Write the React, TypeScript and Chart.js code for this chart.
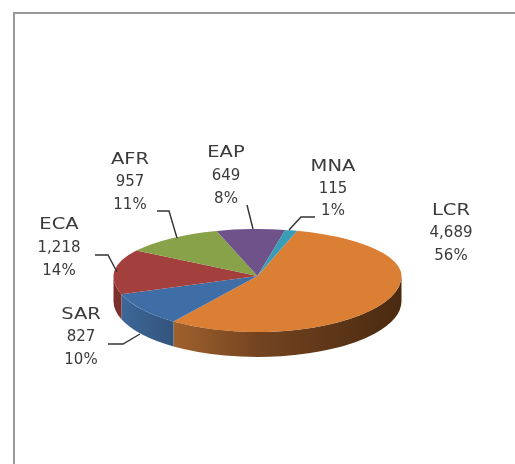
import React, { useEffect, useRef } from "react";
import { Chart, registerables } from "chart.js";

Chart.register(...registerables);

const categories = ["LCR", "SAR", "ECA", "AFR", "EAP", "MNA"];
const values = [4689, 827, 1218, 957, 649, 115];
const percents = ["56%", "10%", "14%", "11%", "8%", "1%"];
const topColors = ["#db7f35", "#3f6ea6", "#a33f3c", "#87a249", "#6e5289", "#399db6"];

const labelAnchors = [
  { x: 451, y: 211, step: 22.5 },
  { x: 81, y: 315, step: 22.5 },
  { x: 59, y: 225, step: 23 },
  { x: 130, y: 160, step: 22.5 },
  { x: 226, y: 153, step: 23 },
  { x: 333, y: 167, step: 22 },
];
const leaders = [
  [],
  [[108, 344], [123, 344], [140, 334]],
  [[95, 255], [108, 255], [117, 272]],
  [[157, 211], [169, 211], [177, 238]],
  [[247, 205], [253, 229]],
  [[315, 217], [301, 217], [289, 230]],
];

const APEX_Y = 276;
const K_TOP = 47 / 144;
const K_BOTTOM = 56 / 144;
const DEPTH = 25;
const NAME_STRETCH = 1.3;

const pie3d = {
  id: "pie3d",
  beforeDatasetsDraw(chart: any) {
    const ctx = chart.ctx;
    const meta = chart.getDatasetMeta(0);
    const first = meta.data[0];
    const cx = first.x;
    const cy = first.y;
    const r = first.outerRadius;
    const ry = r * K_BOTTOM;

    const wallFill = (i: number) => {
      const g = ctx.createLinearGradient(cx - r, 0, cx + r, 0);
      if (i === 0) {
        g.addColorStop(0.15, "#a8672f");
        g.addColorStop(0.5, "#744420");
        g.addColorStop(1, "#4a2a10");
      } else if (i === 1) {
        g.addColorStop(0, "#3f6a9c");
        g.addColorStop(0.2, "#33557e");
      } else {
        g.addColorStop(0, "#7d2f2c");
        g.addColorStop(1, "#7d2f2c");
      }
      return g;
    };

    const twoPi = Math.PI * 2;
    meta.data.forEach((arc: any, i: number) => {
      for (const shift of [-twoPi, 0, twoPi]) {
        const a0 = Math.max(arc.startAngle + shift, 0);
        const a1 = Math.min(arc.endAngle + shift, Math.PI);
        if (a1 <= a0) continue;
        ctx.save();
        ctx.beginPath();
        ctx.ellipse(cx, APEX_Y, r, ry, 0, a0, a1);
        ctx.ellipse(cx, APEX_Y + DEPTH, r, ry, 0, a1, a0, true);
        ctx.closePath();
        ctx.fillStyle = wallFill(i);
        ctx.fill();
        ctx.restore();
      }
    });

    const half = (yFrom: number, h: number, k: number) => {
      ctx.save();
      ctx.beginPath();
      ctx.rect(0, yFrom, chart.width, h);
      ctx.clip();
      ctx.translate(0, APEX_Y);
      ctx.scale(1, k);
      ctx.translate(0, -cy);
      meta.controller.draw();
      ctx.restore();
    };
    half(0, APEX_Y, K_TOP);
    half(APEX_Y, chart.height - APEX_Y, K_BOTTOM);
    return false;
  },
  afterDraw(chart: any) {
    const ctx = chart.ctx;
    ctx.save();
    ctx.strokeStyle = "#333";
    ctx.lineWidth = 1.4;
    leaders.forEach((pts) => {
      if (!pts.length) return;
      ctx.beginPath();
      pts.forEach((p, j) => (j ? ctx.lineTo(p[0], p[1]) : ctx.moveTo(p[0], p[1])));
      ctx.stroke();
    });
    ctx.fillStyle = "#3a3a3a";
    ctx.font = '15px "DejaVu Sans"';
    ctx.textAlign = "center";
    ctx.textBaseline = "middle";
    categories.forEach((c, i) => {
      const a = labelAnchors[i];
      [c, values[i].toLocaleString("en-US"), percents[i]].forEach((t, j) => {
        ctx.save();
        ctx.translate(a.x, a.y + j * a.step);
        if (j === 0) ctx.scale(NAME_STRETCH, 1);
        ctx.fillText(t, 0, 0);
        ctx.restore();
      });
    });
    ctx.restore();
  },
};

export default function App() {
  const ref = useRef<HTMLCanvasElement>(null);
  useEffect(() => {
    const chart = new Chart(ref.current!, {
      type: "pie",
      data: {
        labels: categories,
        datasets: [{ data: values, backgroundColor: topColors, borderWidth: 0 }],
      },
      options: {
        animation: false,
        responsive: false,
        rotation: 16,
        radius: 144,
        plugins: { legend: { display: false }, tooltip: { enabled: false }, title: { display: false } },
      },
      plugins: [pie3d],
    } as any);
    return () => chart.destroy();
  }, []);
  return (
    <div style={{ position: "fixed", left: 0, top: 0, width: 515, height: 464, overflow: "hidden", background: "#fff" }}>
      <div
        style={{
          position: "absolute",
          left: 13,
          top: 12,
          width: 600,
          height: 600,
          borderLeft: "2px solid #999",
          borderTop: "2px solid #999",
        }}
      />
      <canvas ref={ref} width={515} height={464} style={{ position: "absolute", left: 0, top: 0, filter: "blur(0.5px)" }} />
    </div>
  );
}
